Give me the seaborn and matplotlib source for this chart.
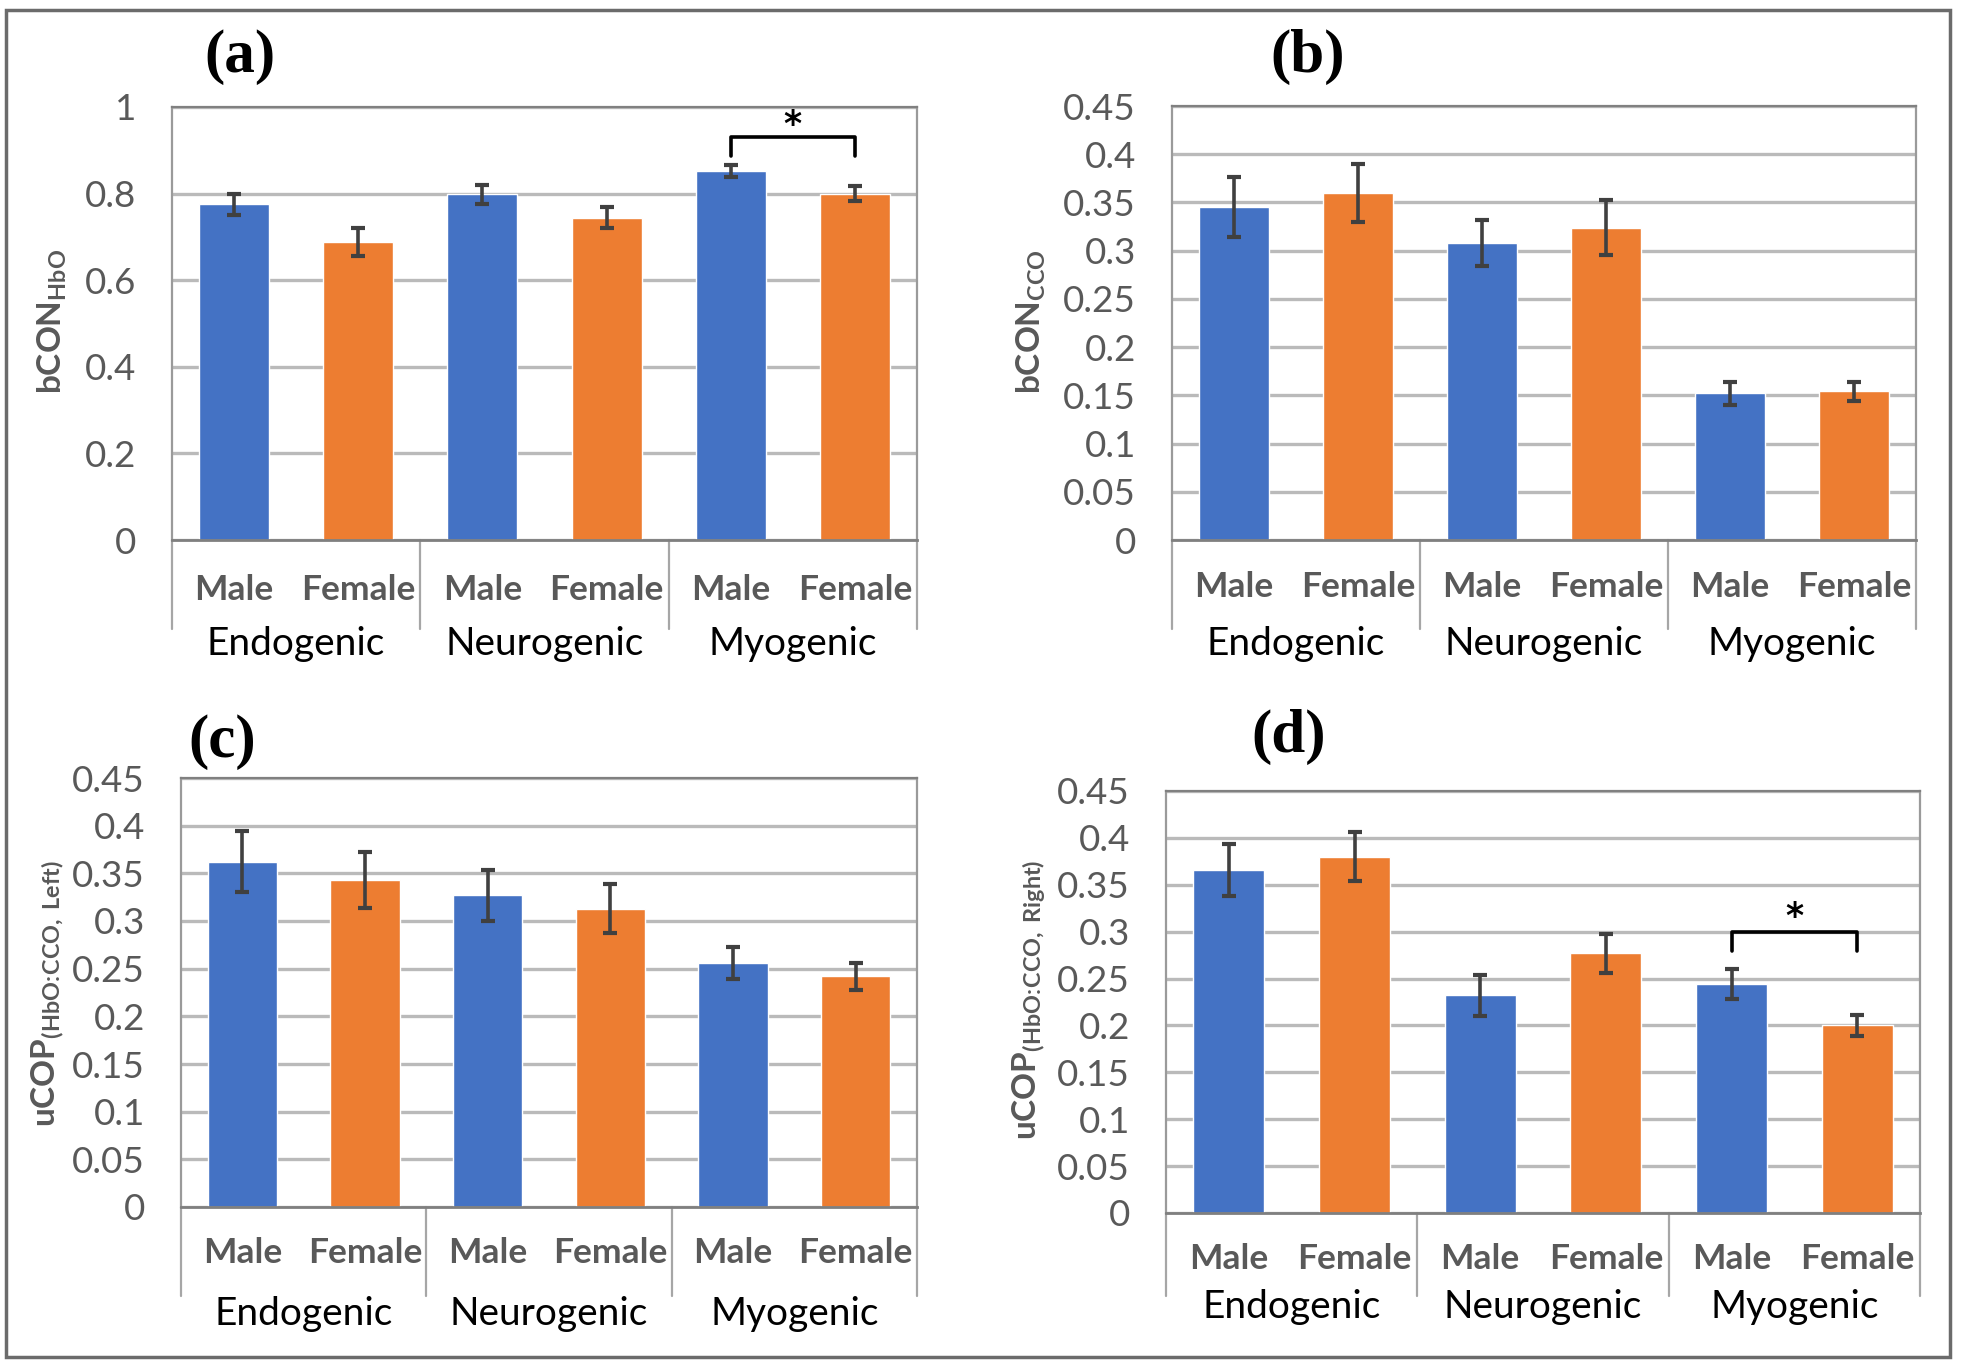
import numpy as np
import pandas as pd
import matplotlib
matplotlib.use("Agg")
import matplotlib.pyplot as plt
import seaborn as sns
from matplotlib import transforms
from matplotlib.patches import Rectangle

# ---------------- data ----------------
groups = ["Endogenic", "Neurogenic", "Myogenic"]
sexes = ["Male", "Female"]

bcon_hbo = [0.775, 0.688, 0.798, 0.744, 0.852, 0.800]
bcon_hbo_err = [0.025, 0.033, 0.022, 0.024, 0.014, 0.017]

bcon_cco = [0.345, 0.360, 0.308, 0.324, 0.152, 0.154]
bcon_cco_err = [0.031, 0.030, 0.024, 0.029, 0.012, 0.010]

ucop_left = [0.362, 0.343, 0.327, 0.313, 0.256, 0.242]
ucop_left_err = [0.032, 0.029, 0.027, 0.026, 0.017, 0.014]

ucop_right = [0.366, 0.380, 0.232, 0.277, 0.244, 0.200]
ucop_right_err = [0.028, 0.026, 0.022, 0.021, 0.016, 0.011]

panel_letters = ["(a)", "(b)", "(c)", "(d)"]
y_labels = [r"bCON$_{\mathregular{HbO}}$",
            r"bCON$_{\mathregular{CCO}}$",
            r"uCOP$_{\mathregular{(HbO\!:\!CCO,\ Left)}}$",
            r"uCOP$_{\mathregular{(HbO\!:\!CCO,\ Right)}}$"]
y_max = [1.0, 0.45, 0.45, 0.45]
y_step = [0.2, 0.05, 0.05, 0.05]
# significance brackets: (panel index, y_leg, y_top, y_star)
brackets = {0: (0.887, 0.93, 0.958), 3: (0.279, 0.300, 0.316)}

series = [(bcon_hbo, bcon_hbo_err), (bcon_cco, bcon_cco_err),
          (ucop_left, ucop_left_err), (ucop_right, ucop_right_err)]

# ---------------- layout (pixels) ----------------
W, H = 1961, 1370
# left, right, top, bottom of plot area
boxes = [(172, 917, 107, 540), (1172, 1916, 106, 540),
         (181, 917, 778, 1207), (1166, 1920, 791, 1213)]
sep_bottom = [629, 629, 1296, 1296]
sex_label_y = [590, 587, 1253, 1259]
group_label_y = [644, 644, 1314, 1307]
letter_pos = [(240, 57), (1308, 57), (222, 742), (1289, 737)]
ylabel_pos = [(52, 321), (1031, 322), (48, 994), (1029, 1000)]

BLUE = "#4472C4"
ORANGE = "#ED7D31"

sns.set_theme(style="white")
plt.rcParams["font.family"] = ["Lato", "DejaVu Sans"]
plt.rcParams["mathtext.fontset"] = "custom"
plt.rcParams["mathtext.rm"] = "Lato:bold"
plt.rcParams["mathtext.it"] = "Lato:bold:italic"
plt.rcParams["mathtext.bf"] = "Lato:bold"

fig = plt.figure(figsize=(W / 100, H / 100), dpi=100)
fig.patch.set_facecolor("white")


def fy(ypix):
    return 1 - ypix / H


def fx(xpix):
    return xpix / W


conds = [f"{g} {s}" for g in groups for s in sexes]

for i, (vals, errs) in enumerate(series):
    l, r, t, b = boxes[i]
    ax = fig.add_axes([fx(l), fy(b), (r - l) / W, (b - t) / H])
    df = pd.DataFrame({"cond": conds,
                       "sex": [s for g in groups for s in sexes],
                       "value": vals})
    sns.barplot(data=df, x="cond", y="value", hue="sex", order=conds,
                hue_order=sexes, palette={"Male": BLUE, "Female": ORANGE},
                dodge=False, width=0.565, errorbar=None, legend=False,
                saturation=1, ax=ax)
    xs = np.arange(len(conds))
    ax.errorbar(xs, vals, yerr=errs, fmt="none", ecolor="#404040",
                elinewidth=2.6, capsize=5, capthick=3, zorder=3)
    ax.set_xlim(-0.5, 5.5)
    ax.set_ylim(0, y_max[i])
    ticks = np.round(np.arange(0, y_max[i] + 1e-9, y_step[i]), 3)
    ax.set_yticks(ticks)
    ax.set_yticklabels([f"{v:g}" for v in ticks])
    ax.tick_params(axis="y", length=0, pad=26, labelsize=26.5,
                   labelcolor="#595959")
    ax.set_xticks(xs)
    ax.set_xticklabels([])
    ax.tick_params(axis="x", direction="in", length=7, width=2,
                   color="#404040")
    ax.set_xlabel("")
    ax.set_ylabel("")
    ax.yaxis.grid(True, color="#bababa", lw=2.4)
    ax.xaxis.grid(False)
    ax.yaxis.set_zorder(0.5)
    ax.xaxis.set_zorder(2.6)
    for side in ["left", "top", "right"]:
        ax.spines[side].set_color("#9a9a9a")
        ax.spines[side].set_linewidth(1.6)
    ax.spines["top"].set_color("#808080")
    ax.spines["bottom"].set_color("#7f7f7f")
    ax.spines["bottom"].set_linewidth(2)

    blend = transforms.blended_transform_factory(ax.transData, fig.transFigure)
    for xsep in [-0.5, 1.5, 3.5, 5.5]:
        ax.plot([xsep, xsep], [fy(b), fy(sep_bottom[i])], transform=blend,
                color="#a6a6a6", lw=1.6, clip_on=False)
    for k, c in enumerate(conds):
        ax.text(k, fy(sex_label_y[i]), sexes[k % 2], transform=blend,
                ha="center", va="center", fontsize=25.5, fontweight="bold",
                color="#595959")
    for g, name in enumerate(groups):
        ax.text(2 * g + 0.5, fy(group_label_y[i]), name, transform=blend,
                ha="center", va="center", fontsize=28, color="black")

    if i in brackets:
        yl, yt, ys = brackets[i]
        ax.plot([4, 4, 5, 5], [yl, yt, yt, yl], color="black", lw=2.6,
                clip_on=False, zorder=4)
        ax.text(4.5, ys, "*", ha="center", va="center", fontsize=25,
                fontweight="bold", color="black", family="DejaVu Sans")

    lx, ly = letter_pos[i]
    fig.text(fx(lx), fy(ly), panel_letters[i], ha="center", va="center",
             fontsize=44, fontweight="bold", family="Liberation Serif",
             color="black")
    px, py = ylabel_pos[i]
    fig.text(fx(px), fy(py), y_labels[i], rotation=90, ha="center",
             va="center", fontsize=24, fontweight="bold", color="#595959")

fig.patches.append(Rectangle((fx(6), fy(1357)), (1950 - 6) / W,
                             (1357 - 10) / H, transform=fig.transFigure,
                             fill=False, ec="#6b6b6b", lw=2.5))

fig.savefig("out.png", dpi=100, facecolor="white")
